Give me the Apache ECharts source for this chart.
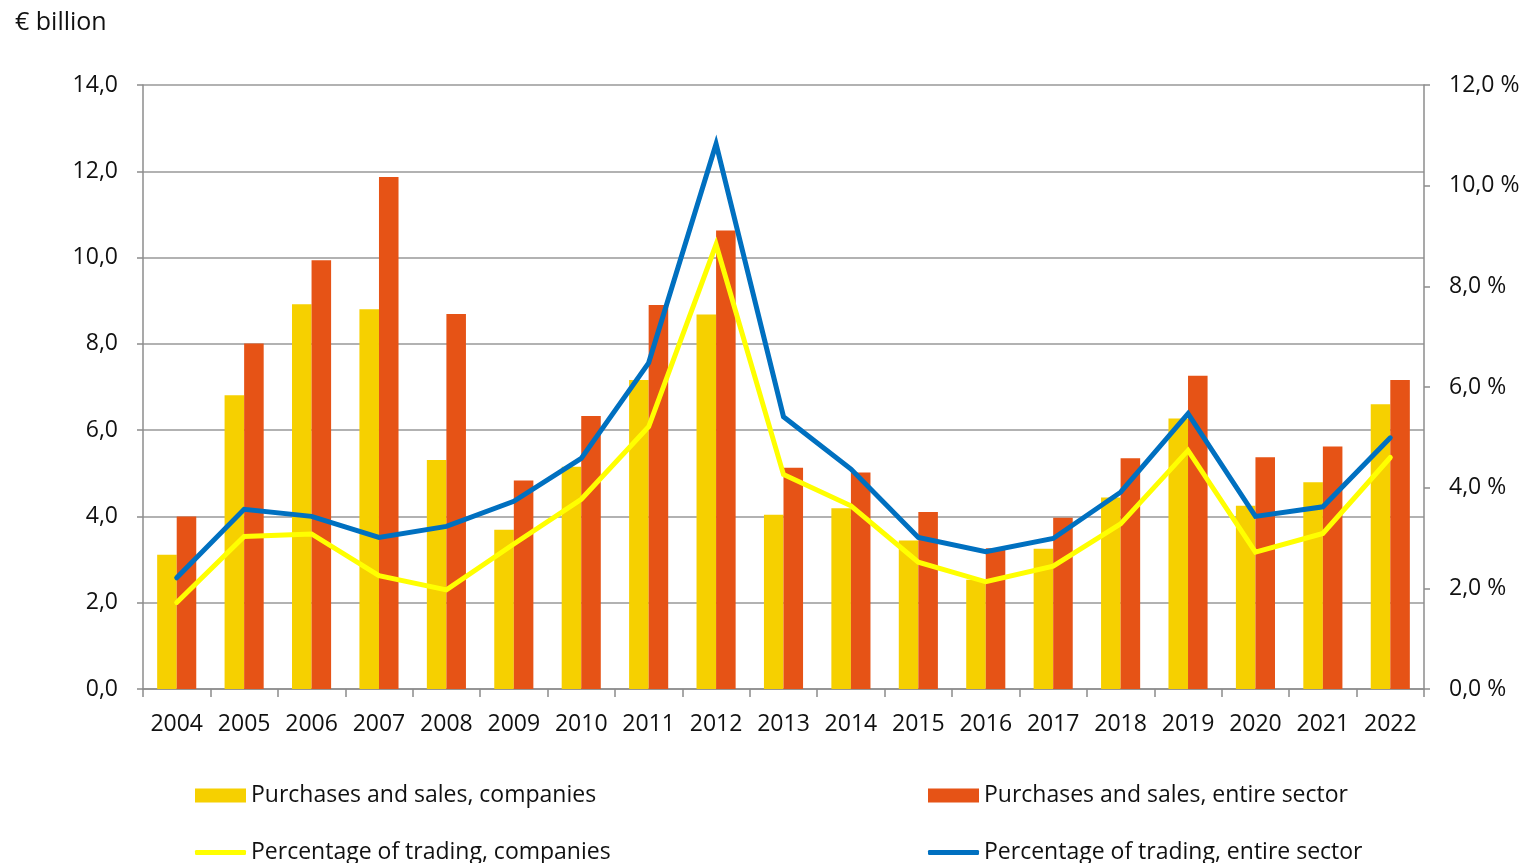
<!DOCTYPE html>
<html>
<head>
<meta charset="utf-8">
<script src="https://cdn.jsdelivr.net/npm/echarts@6/dist/echarts.min.js"></script>
<style>
html,body{margin:0;padding:0;background:#fff;}
#chart{width:1527px;height:863px;}
</style>
</head>
<body>
<div id="chart"></div>
<script>
var years = ['2004','2005','2006','2007','2008','2009','2010','2011','2012','2013','2014','2015','2016','2017','2018','2019','2020','2021','2022'];
var salesCompanies = [3.11,6.81,8.92,8.80,5.31,3.69,5.15,7.16,8.68,4.04,4.19,3.44,2.53,3.25,4.44,6.27,4.25,4.79,6.60];
var salesSector = [4.00,8.01,9.94,11.87,8.69,4.83,6.33,8.90,10.63,5.13,5.02,4.10,3.26,3.97,5.35,7.26,5.37,5.62,7.16];
var pctCompanies = [1.72,3.03,3.08,2.25,1.97,2.88,3.77,5.21,8.83,4.26,3.64,2.52,2.13,2.44,3.28,4.74,2.72,3.09,4.60];
var pctSector = [2.21,3.57,3.43,3.01,3.23,3.73,4.58,6.48,10.83,5.41,4.37,3.01,2.73,2.99,3.91,5.47,3.43,3.62,4.99];
var leftTicks = {min:0, max:14, interval:2};
var rightTicks = {min:0, max:12, interval:2};

var FONT = '"Open Sans", "Noto Sans", sans-serif';
var FS = 23;
var chart = echarts.init(document.getElementById('chart'));
function fmt(v){ return v.toFixed(1).replace('.', ','); }
var legendText = {fontFamily: FONT, fontSize: FS, color: '#111'};
chart.setOption({
  animation: false,
  backgroundColor: '#fff',
  title: {
    text: '€ billion', left: 10, top: 5,
    textStyle: {fontFamily: FONT, fontSize: 25, fontWeight: 'normal', color: '#111'}
  },
  grid: {left: 143, right: 103, top: 85, bottom: 174, containLabel: false},
  legend: [
    {data: ['Purchases and sales, companies'], left: 190, top: 779, itemWidth: 51, itemHeight: 14, icon: 'rect', textStyle: legendText},
    {data: ['Purchases and sales, entire sector'], left: 923, top: 779, itemWidth: 51, itemHeight: 14, icon: 'rect', textStyle: legendText},
    {data: ['Percentage of trading, companies'], left: 190, top: 836, itemWidth: 51, itemHeight: 5, icon: 'roundRect', textStyle: legendText},
    {data: ['Percentage of trading, entire sector'], left: 923, top: 836, itemWidth: 51, itemHeight: 5, icon: 'roundRect', textStyle: legendText}
  ],
  xAxis: {
    type: 'category', data: years, boundaryGap: true,
    axisLine: {lineStyle: {color: '#8c8c8c', width: 1.5}},
    axisTick: {show: true, length: 8, alignWithLabel: false, lineStyle: {color: '#8c8c8c', width: 1.5}},
    axisLabel: {fontFamily: FONT, fontSize: FS, color: '#111', margin: 24, interval: 0}
  },
  yAxis: [
    {
      type: 'value', min: leftTicks.min, max: leftTicks.max, interval: leftTicks.interval,
      axisLine: {show: true, lineStyle: {color: '#8c8c8c', width: 1.5}},
      axisTick: {show: true, length: 6, lineStyle: {color: '#8c8c8c', width: 1.5}},
      splitLine: {show: true, lineStyle: {color: '#999', width: 1.5}},
      axisLabel: {fontFamily: FONT, fontSize: FS, color: '#111', margin: 25, formatter: fmt}
    },
    {
      type: 'value', position: 'right', min: rightTicks.min, max: rightTicks.max, interval: rightTicks.interval,
      axisLine: {show: true, lineStyle: {color: '#8c8c8c', width: 1.5}},
      axisTick: {show: true, length: 6, lineStyle: {color: '#8c8c8c', width: 1.5}},
      splitLine: {show: false},
      axisLabel: {fontFamily: FONT, fontSize: FS, color: '#111', margin: 25, formatter: function(v){ return fmt(v) + ' %'; }}
    }
  ],
  series: [
    {name: 'Purchases and sales, companies', type: 'bar', data: salesCompanies, barGap: '0%', barCategoryGap: '42%', itemStyle: {color: '#F6D000'}, z: 2},
    {name: 'Purchases and sales, entire sector', type: 'bar', data: salesSector, barGap: '0%', barCategoryGap: '42%', itemStyle: {color: '#E65316'}, z: 2},
    {name: 'Percentage of trading, companies', type: 'line', yAxisIndex: 1, data: pctCompanies, symbol: 'none', lineStyle: {color: '#FFFF00', width: 5, cap: 'round', join: 'miter'}, itemStyle: {color: '#FFFF00'}, z: 3},
    {name: 'Percentage of trading, entire sector', type: 'line', yAxisIndex: 1, data: pctSector, symbol: 'none', lineStyle: {color: '#0070C0', width: 5, cap: 'round', join: 'miter'}, itemStyle: {color: '#0070C0'}, z: 4}
  ]
});
</script>
</body>
</html>
